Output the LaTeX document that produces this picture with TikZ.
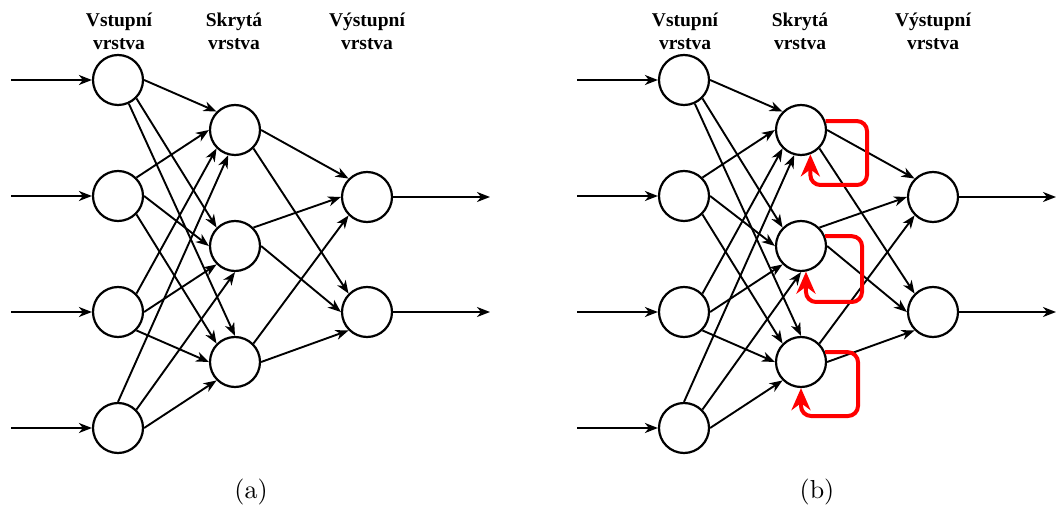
\documentclass[tikz,border=0pt]{standalone}
\usepackage{fontspec}
\newfontfamily\labfont{Liberation Serif}
\newfontfamily\capfont{lmroman10-regular}[Extension=.otf]
\usetikzlibrary{arrows.meta}
\tikzset{
  neuron/.style={circle, draw, line width=2.2pt, minimum size=50pt, inner sep=0pt, fill=white},
  conn/.style={line width=1.9pt, -{Stealth[length=13pt,width=10pt,inset=4pt]}},
  fb/.style={draw=red, line width=4pt, rounded corners=10pt, -{Stealth[length=22pt,width=19pt,inset=7pt]}},
  lab/.style={font=\labfont\bfseries\fontsize{19.5}{23}\selectfont, anchor=base, inner sep=0pt},
  captxt/.style={font=\capfont\fontsize{26}{30}\selectfont, anchor=base, inner sep=0pt},
}
\newcommand{\nnet}[3]{%
\begin{scope}[shift={(#2,0)}]
  \node[neuron] (#1i1) at (118,80) {};
  \node[neuron] (#1i2) at (118,196) {};
  \node[neuron] (#1i3) at (118,312) {};
  \node[neuron] (#1i4) at (118,428) {};
  \node[neuron] (#1h1) at (235,130) {};
  \node[neuron] (#1h2) at (235,246) {};
  \node[neuron] (#1h3) at (235,362) {};
  \node[neuron] (#1o1) at (367,197) {};
  \node[neuron] (#1o2) at (367,312) {};
  \coordinate (#1s1) at (11,80);
  \coordinate (#1s2) at (11,196);
  \coordinate (#1s3) at (11,312);
  \coordinate (#1s4) at (11,428);
  \coordinate (#1e1) at (490,197);
  \coordinate (#1e2) at (490,312);
  \node[lab] (#1la1) at (119,27) {Vstupní};
  \node[lab] (#1la2) at (119,50) {vrstva};
  \node[lab] (#1lb1) at (234,27) {Skrytá};
  \node[lab] (#1lb2) at (234,50) {vrstva};
  \node[lab] (#1lc1) at (367,27) {Výstupní};
  \node[lab] (#1lc2) at (367,50) {vrstva};
  \node[captxt] (#1cap) at (251,498) {#3};
  \draw[conn] (#1s1) -- (#1i1);
  \draw[conn] (#1s2) -- (#1i2);
  \draw[conn] (#1s3) -- (#1i3);
  \draw[conn] (#1s4) -- (#1i4);
  \draw[conn] (#1i1.east) -- (#1h1.north west);
  \draw[conn] (#1i1) -- (#1h3.north);
  \draw[conn] (#1i1.south east) -- (#1h2.north west);
  \draw[conn] (#1i2.north east) -- (#1h1.west);
  \draw[conn] (#1i2.east) -- (#1h2.west);
  \draw[conn] (#1i2.south east) -- (#1h3.north west);
  \draw[conn] (#1i3.north east) -- (#1h1.south west);
  \draw[conn] (#1i3.east) -- (#1h2.south west);
  \draw[conn] (#1i3.south east) -- (#1h3.west);
  \draw[conn] (#1i4.north) -- (#1h1.-105);
  \draw[conn] (#1i4.north east) -- (#1h2.south);
  \draw[conn] (#1i4.east) -- (#1h3.south west);
  \draw[conn] (#1h1.east) -- (#1o1.north west);
  \draw[conn] (#1h1.south east) -- (#1o2.north west);
  \draw[conn] (#1h2.north east) -- (#1o1.west);
  \draw[conn] (#1h2.east) -- (#1o2.west);
  \draw[conn] (#1h3.north east) -- (#1o1.south west);
  \draw[conn] (#1h3.east) -- (#1o2.south west);
  \draw[conn] (#1o1) -- (#1e1);
  \draw[conn] (#1o2) -- (#1e2);
\end{scope}}
\begin{document}
\begin{tikzpicture}[x=1pt,y=-1pt]
  \useasboundingbox (0,0) rectangle (1057,510);
  \nnet{a}{0}{(a)}
  \nnet{b}{566}{(b)}
  \draw[fb] (bh1.20) -| (867,185) -| (bh1.-69);
  \draw[fb] (bh2.22) -| (862,302) -| (bh2.-79);
  \draw[fb] (bh3.22) -| (858,416) -| (bh3.south);
\end{tikzpicture}
\end{document}
